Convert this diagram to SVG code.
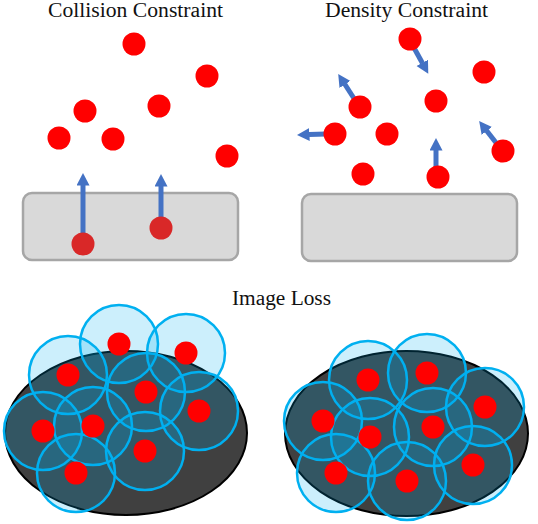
<svg xmlns="http://www.w3.org/2000/svg" width="538" height="524" viewBox="0 0 538 524">
<defs>
<style>
.title{font-family:"Liberation Serif","Times New Roman","DejaVu Serif",serif;font-size:20px;fill:#111;text-anchor:middle}
.dot{fill:#ff0000}
.dotd{fill:#d92828}
.box{fill:#d9d9d9;stroke:#a6a6a6;stroke-width:2.5}
.arr{stroke:#4472c4;stroke-width:5;fill:none;marker-end:url(#ah)}
.blob{fill:#404040;stroke:#000;stroke-width:2}
.cell{fill:#00b0f0;fill-opacity:0.2;stroke:#00b0f0;stroke-width:2.5}
</style>
<marker id="ah" markerUnits="userSpaceOnUse" markerWidth="13" markerHeight="14" refX="0.5" refY="6.5" orient="auto">
<path d="M0,0 L12.5,6.5 L0,13 z" fill="#4472c4"/>
</marker>
</defs>
<rect width="538" height="524" fill="#fff"/>

<g id="titles">
<text class="title" x="135.5" y="17" textLength="175" lengthAdjust="spacingAndGlyphs">Collision Constraint</text>
<text class="title" x="406.5" y="17" textLength="163" lengthAdjust="spacingAndGlyphs">Density Constraint</text>
<text class="title" x="281.5" y="305" textLength="99" lengthAdjust="spacingAndGlyphs">Image Loss</text>
</g>

<g id="box-left"><rect class="box" x="23" y="193" width="215" height="67" rx="9"/></g>
<g id="box-right"><rect class="box" x="302" y="194" width="215" height="67" rx="9"/></g>

<g id="connectors">
<path class="arr" d="M83,240 L83,185"/>
<path class="arr" d="M161,225 L161,186"/>
<path class="arr" d="M413,46 L422.5,63.3"/>
<path class="arr" d="M355,100 L344.7,84"/>
<path class="arr" d="M326,134 L309,134.6"/>
<path class="arr" d="M436,168 L436,150"/>
<path class="arr" d="M497,144 L486.5,130.5"/>
</g>

<g id="collision-particles">
<circle class="dot" cx="134" cy="44" r="11.5"/>
<circle class="dot" cx="207" cy="76" r="11.5"/>
<circle class="dot" cx="85" cy="111" r="11.5"/>
<circle class="dot" cx="159" cy="106" r="11.5"/>
<circle class="dot" cx="59" cy="138" r="11.5"/>
<circle class="dot" cx="113" cy="139" r="11.5"/>
<circle class="dot" cx="227" cy="156" r="11.5"/>
<circle class="dotd" cx="83" cy="244" r="11.5"/>
<circle class="dotd" cx="161" cy="228" r="11.5"/>
</g>

<g id="density-particles">
<circle class="dot" cx="410" cy="39" r="11.5"/>
<circle class="dot" cx="484" cy="72" r="11.5"/>
<circle class="dot" cx="436" cy="101" r="11.5"/>
<circle class="dot" cx="360" cy="107" r="11.5"/>
<circle class="dot" cx="335" cy="134" r="11.5"/>
<circle class="dot" cx="387" cy="134" r="11.5"/>
<circle class="dot" cx="363" cy="174" r="11.5"/>
<circle class="dot" cx="438" cy="177" r="11.5"/>
<circle class="dot" cx="503" cy="151" r="11.5"/>
</g>

<g id="image-left">
<ellipse class="blob" cx="126" cy="433" rx="121" ry="82"/>
<circle class="cell" cx="119" cy="344" r="39"/>
<circle class="cell" cx="186" cy="353" r="39"/>
<circle class="cell" cx="68" cy="375" r="39"/>
<circle class="cell" cx="146" cy="392" r="39"/>
<circle class="cell" cx="199" cy="411" r="39"/>
<circle class="cell" cx="43" cy="431" r="39"/>
<circle class="cell" cx="93" cy="426" r="39"/>
<circle class="cell" cx="145" cy="451" r="39"/>
<circle class="cell" cx="76" cy="473" r="39"/>
<circle class="dot" cx="119" cy="344" r="11.5"/>
<circle class="dot" cx="186" cy="353" r="11.5"/>
<circle class="dot" cx="68" cy="375" r="11.5"/>
<circle class="dot" cx="146" cy="392" r="11.5"/>
<circle class="dot" cx="199" cy="411" r="11.5"/>
<circle class="dot" cx="43" cy="431" r="11.5"/>
<circle class="dot" cx="93" cy="426" r="11.5"/>
<circle class="dot" cx="145" cy="451" r="11.5"/>
<circle class="dot" cx="76" cy="473" r="11.5"/>
</g>

<g id="image-right">
<ellipse class="blob" cx="406.5" cy="433.5" rx="121.5" ry="82.5"/>
<circle class="cell" cx="368" cy="380" r="39"/>
<circle class="cell" cx="427" cy="373" r="39"/>
<circle class="cell" cx="323" cy="421" r="39"/>
<circle class="cell" cx="370" cy="437" r="39"/>
<circle class="cell" cx="433" cy="427" r="39"/>
<circle class="cell" cx="485" cy="407" r="39"/>
<circle class="cell" cx="336" cy="473" r="39"/>
<circle class="cell" cx="407" cy="481" r="39"/>
<circle class="cell" cx="473" cy="465" r="39"/>
<circle class="dot" cx="368" cy="380" r="11.5"/>
<circle class="dot" cx="427" cy="373" r="11.5"/>
<circle class="dot" cx="323" cy="421" r="11.5"/>
<circle class="dot" cx="370" cy="437" r="11.5"/>
<circle class="dot" cx="433" cy="427" r="11.5"/>
<circle class="dot" cx="485" cy="407" r="11.5"/>
<circle class="dot" cx="336" cy="473" r="11.5"/>
<circle class="dot" cx="407" cy="481" r="11.5"/>
<circle class="dot" cx="473" cy="465" r="11.5"/>
</g>
</svg>
